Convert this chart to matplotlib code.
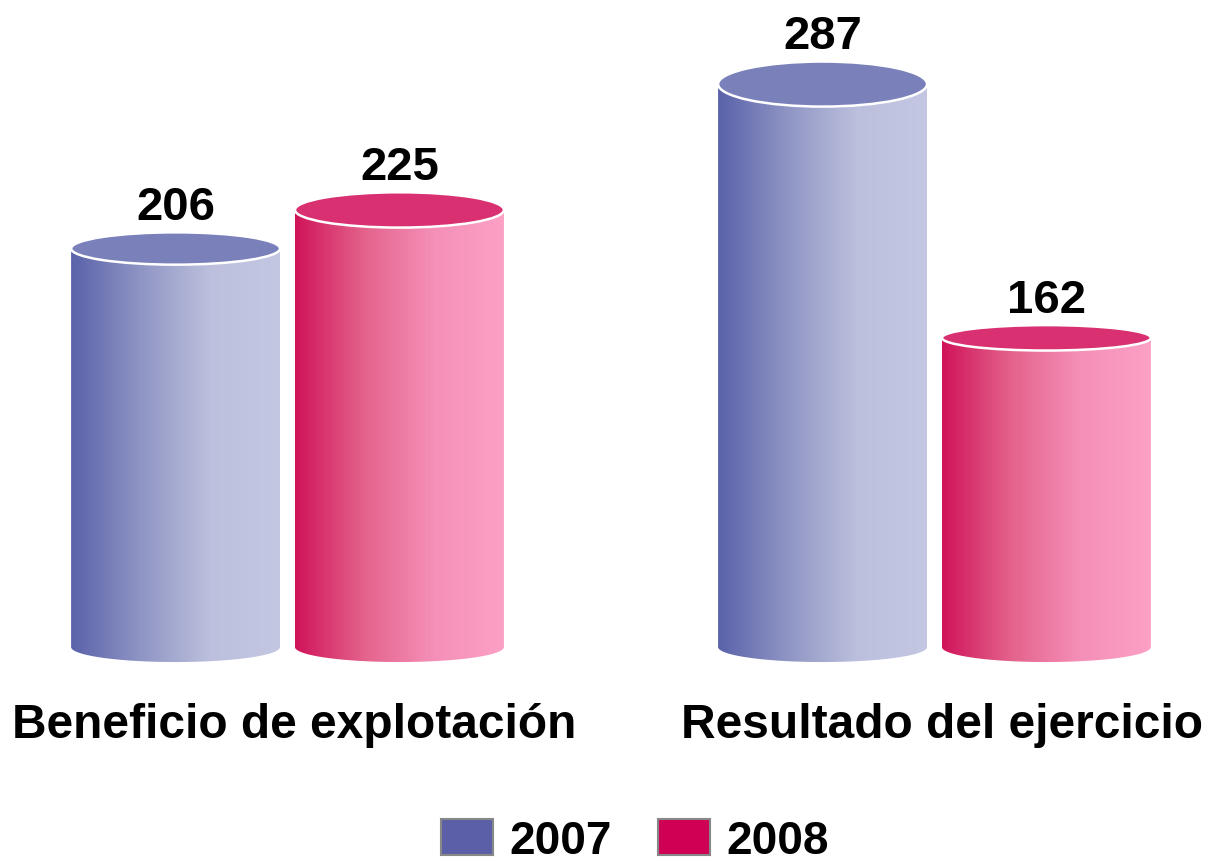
import numpy as np
import matplotlib
matplotlib.use("Agg")
import matplotlib.pyplot as plt
from matplotlib.patches import Ellipse, Polygon, Patch
from matplotlib.colors import LinearSegmentedColormap

plt.rcParams['font.family'] = ['Liberation Sans', 'DejaVu Sans']

categories = ["Beneficio de explotación", "Resultado del ejercicio"]
series_names = ["2007", "2008"]
values_2007 = [206, 287]
values_2008 = [225, 162]

side_colors = {
    "2007": ["#5A62AA", "#8F95C4", "#BCC0DD", "#C4C7E2"],
    "2008": ["#D0145A", "#E4638C", "#F590B8", "#FDA0C6"],
}
top_colors = {"2007": "#7A80BA", "2008": "#D83070"}
legend_colors = {"2007": "#5B5FA7", "2008": "#D00055"}

fig = plt.figure(figsize=(12.09, 8.62), dpi=100)
ax = fig.add_axes([0, 0, 1, 1])
ax.set_axis_off()

bar_w = 0.323
offset = 0.173
floor = 9.7          # 3D floor level of the cylinders
bottom_h = 14.8      # full height of the bottom ellipse (value units)
top_ratio = 0.0773   # top ellipse height relative to value (perspective)
label_dx = 0.011

def cylinder(xc, val, name, z):
    x0, x1 = xc - bar_w / 2, xc + bar_w / 2
    eh = top_ratio * val
    t = np.linspace(np.pi, 2 * np.pi, 100)
    arc = np.column_stack([xc + bar_w / 2 * np.cos(t), floor + bottom_h / 2 * np.sin(t)])
    pts = np.vstack([[x0, val], arc, [x1, val]])
    poly = Polygon(pts, closed=True, facecolor='none', edgecolor='none', transform=ax.transData)
    ax.add_patch(poly)
    cmap = LinearSegmentedColormap.from_list(name + "side", side_colors[name])
    grad = np.linspace(0, 1, 256).reshape(1, -1)
    im = ax.imshow(grad, cmap=cmap, extent=[x0, x1, floor - bottom_h, val], aspect='auto',
                   zorder=z, interpolation='bicubic')
    im.set_clip_path(poly)
    top = Ellipse((xc, val), bar_w, eh, facecolor=top_colors[name],
                  edgecolor='white', linewidth=1.8, zorder=z + 0.5)
    ax.add_patch(top)
    ax.annotate(str(val), (xc, val + eh / 2), xytext=(0, 9.7), textcoords='offset points',
                ha='center', va='baseline', fontsize=34, fontweight='bold',
                color='black', zorder=z + 1)

for i in range(len(categories)):
    cylinder(i - offset, values_2007[i], "2007", 2)
    cylinder(i + offset, values_2008[i], "2008", 3)
    ax.text(i + label_dx, -28.5, categories[i], ha='center', va='center',
            fontsize=34.5, fontweight='bold', color='black')

ax.set_xlim(-0.4444, 1.4243)
ax.set_ylim(-95.7, 328.9)

handles = [Patch(facecolor=legend_colors[n], edgecolor='#888888', linewidth=1.5) for n in series_names]
leg = ax.legend(handles, series_names, loc='lower center', bbox_to_anchor=(0.525, -0.05),
                ncol=2, frameon=False, prop={'weight': 'bold', 'size': 33},
                handlelength=1.15, handleheight=0.85, handletextpad=0.35, columnspacing=1.0)

fig.savefig("out.png", dpi=100)
